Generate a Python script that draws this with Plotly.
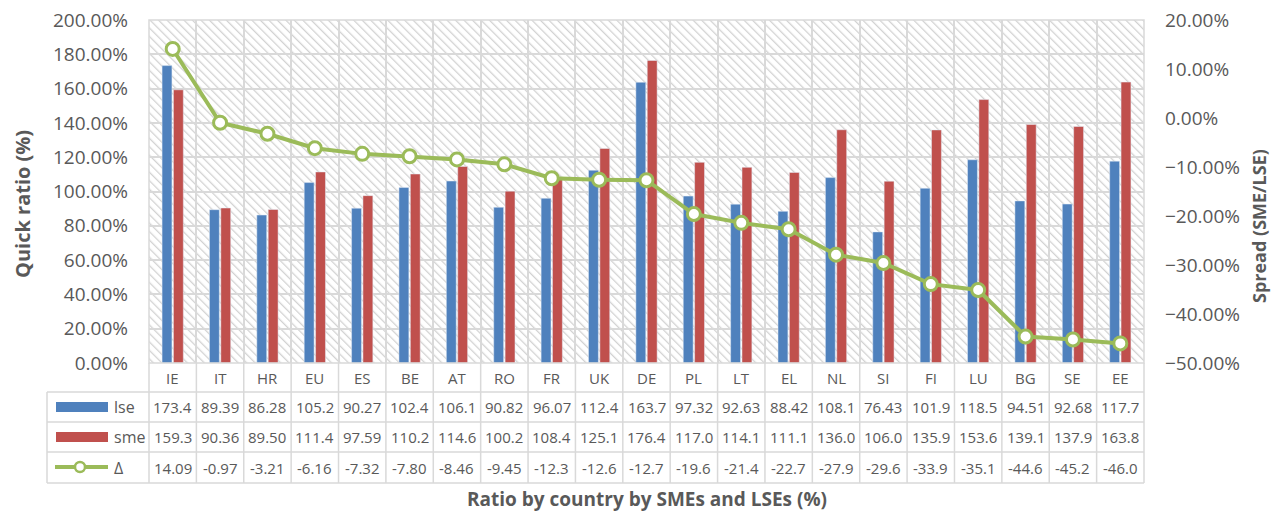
import base64
import plotly.graph_objects as go

categories = ["IE", "IT", "HR", "EU", "ES", "BE", "AT", "RO", "FR", "UK", "DE",
              "PL", "LT", "EL", "NL", "SI", "FI", "LU", "BG", "SE", "EE"]
lse = [173.4, 89.39, 86.28, 105.2, 90.27, 102.4, 106.1, 90.82, 96.07, 112.4, 163.7,
       97.32, 92.63, 88.42, 108.1, 76.43, 101.9, 118.5, 94.51, 92.68, 117.7]
sme = [159.3, 90.36, 89.50, 111.4, 97.59, 110.2, 114.6, 100.2, 108.4, 125.1, 176.4,
       117.0, 114.1, 111.1, 136.0, 106.0, 135.9, 153.6, 139.1, 137.9, 163.8]
delta = [14.09, -0.97, -3.21, -6.16, -7.32, -7.80, -8.46, -9.45, -12.3, -12.6, -12.7,
         -19.6, -21.4, -22.7, -27.9, -29.6, -33.9, -35.1, -44.6, -45.2, -46.0]
series_names = ["lse", "sme", "Δ"]

BLUE = "#4F81BD"
RED = "#C0504D"
GREEN = "#9BBB59"
GRID = "#D9D9D9"
TXT = "#595959"
FONT = "Open Sans"

OFF = 8  # page body margin
W, H = 1283 - OFF, 513 - OFF
L, R, T, B = 149, 1144, 20, 363   # plot area in window pixels
PW, PH = R - L, B - T


def px2x(px):
    return (px - L) / PW


def py2y(py):
    return (B - py) / PH


def fmt(v):
    ip = len(str(int(abs(v))))
    d = max(0, 5 - 1 - ip - (1 if v < 0 else 0))
    return f"{v:.{d}f}"


# hatched background as an svg image
svg = (f'<svg xmlns="http://www.w3.org/2000/svg" width="{PW}" height="{PH}" '
       f'viewBox="0 0 {PW} {PH}" preserveAspectRatio="none">'
       '<defs><pattern id="h" patternUnits="userSpaceOnUse" width="6" height="6" '
       'patternTransform="rotate(-45)">'
       '<rect x="0" y="0" width="1.3" height="6" fill="#D2D2D2"/></pattern></defs>'
       f'<rect width="{PW}" height="{PH}" fill="white"/>'
       f'<rect width="{PW}" height="{PH}" fill="url(#h)"/></svg>')
src = "data:image/svg+xml;base64," + base64.b64encode(svg.encode()).decode()

fig = go.Figure()
fig.add_trace(go.Bar(x=categories, y=lse, name=series_names[0], marker_color=BLUE))
fig.add_trace(go.Bar(x=categories, y=sme, name=series_names[1], marker_color=RED))
fig.add_trace(go.Scatter(x=categories, y=delta, name=series_names[2], yaxis="y2",
                         mode="lines+markers",
                         line=dict(color=GREEN, width=4),
                         marker=dict(size=13, color="white",
                                     line=dict(color=GREEN, width=3))))

shapes = []
n = len(categories)
# plot border
shapes.append(dict(type="rect", xref="paper", yref="paper", x0=0, x1=1, y0=0, y1=1,
                   line=dict(color=GRID, width=1.5), layer="above"))
# table vertical lines at category boundaries
for i in range(n + 1):
    shapes.append(dict(type="line", xref="paper", yref="paper", x0=i / n, x1=i / n,
                       y0=0, y1=py2y(483), line=dict(color=GRID, width=1.5)))
# left legend column
shapes.append(dict(type="line", xref="paper", yref="paper", x0=px2x(47), x1=px2x(47),
                   y0=py2y(392), y1=py2y(483), line=dict(color=GRID, width=1.5)))
row_lines = [392, 422, 452, 483]
for ry in row_lines:
    shapes.append(dict(type="line", xref="paper", yref="paper", x0=px2x(47), x1=1,
                       y0=py2y(ry), y1=py2y(ry), line=dict(color=GRID, width=1.5)))
# legend keys
shapes.append(dict(type="rect", xref="paper", yref="paper", x0=px2x(56), x1=px2x(108),
                   y0=py2y(412), y1=py2y(402), fillcolor=BLUE, line=dict(width=0)))
shapes.append(dict(type="rect", xref="paper", yref="paper", x0=px2x(56), x1=px2x(108),
                   y0=py2y(442), y1=py2y(432), fillcolor=RED, line=dict(width=0)))
shapes.append(dict(type="line", xref="paper", yref="paper", x0=px2x(55), x1=px2x(108),
                   y0=py2y(467), y1=py2y(467), line=dict(color=GREEN, width=4)))
shapes.append(dict(type="circle", xref="paper", yref="paper", x0=px2x(75), x1=px2x(85),
                   y0=py2y(472), y1=py2y(462), fillcolor="white",
                   line=dict(color=GREEN, width=2.5)))

ann = []
row_centers = [407, 437, 467.5]
for c in categories:
    ann.append(dict(x=c, xref="x", y=py2y(378), yref="paper", text=c, showarrow=False,
                    xanchor="center", yanchor="middle", font=dict(size=15, color=TXT)))
for vals, rc in zip([lse, sme, delta], row_centers):
    for c, v in zip(categories, vals):
        ann.append(dict(x=c, xref="x", y=py2y(rc), yref="paper", text=fmt(v),
                        showarrow=False, xanchor="center", yanchor="middle",
                        font=dict(size=15, color=TXT)))
for name, rc in zip(series_names, row_centers):
    ann.append(dict(x=px2x(112), xref="paper", y=py2y(rc), yref="paper", text=name,
                    showarrow=False, xanchor="left", yanchor="middle",
                    font=dict(size=16, color=TXT)))
# axis titles
ann.append(dict(x=px2x(22), xref="paper", y=py2y(204), yref="paper",
                text="<b>Quick ratio (%)</b>", textangle=-90, showarrow=False,
                xanchor="center", yanchor="middle", font=dict(size=20, color=TXT)))
ann.append(dict(x=px2x(1259), xref="paper", y=py2y(226), yref="paper",
                text="<b>Spread (SME/LSE)</b>", textangle=-90, showarrow=False,
                xanchor="center", yanchor="middle", font=dict(size=18, color=TXT)))
ann.append(dict(x=0.5, xref="paper", y=py2y(499), yref="paper",
                text="<b>Ratio by country by SMEs and LSEs (%)</b>", showarrow=False,
                xanchor="center", yanchor="middle", font=dict(size=19, color=TXT)))

fig.update_layout(
    width=W, height=H, autosize=False,
    margin=dict(l=L - OFF, r=1283 - R, t=T - OFF, b=513 - B, pad=0,
                autoexpand=False),
    paper_bgcolor="white", plot_bgcolor="rgba(0,0,0,0)",
    font=dict(family=FONT, color=TXT),
    showlegend=False,
    barmode="group", bargap=0.52, bargroupgap=0.13,
    xaxis=dict(type="category", range=[-0.5, n - 0.5], tickson="boundaries",
               showgrid=True, gridcolor=GRID, gridwidth=1.5, showticklabels=False,
               ticks="", showline=False, zeroline=False, automargin=False),
    yaxis=dict(range=[0, 200], dtick=20, tickformat=".2f", ticksuffix="%",
               showgrid=True, gridcolor=GRID, gridwidth=1.5, zeroline=False,
               ticks="", ticklabelstandoff=20, ticklabeloverflow="allow",
               automargin=False, tickfont=dict(size=19, color=TXT)),
    yaxis2=dict(range=[-50, 20], dtick=10, tickformat=".2f", ticksuffix="%",
                overlaying="y", side="right", showgrid=False, zeroline=False,
                ticks="", ticklabelstandoff=20, ticklabeloverflow="allow",
                automargin=False, tickfont=dict(size=19, color=TXT)),
    images=[dict(source=src, xref="paper", yref="paper", x=0, y=1, sizex=1, sizey=1,
                 xanchor="left", yanchor="top", sizing="stretch", layer="below")],
    shapes=shapes,
    annotations=ann,
)

fig.write_html("out.html")
